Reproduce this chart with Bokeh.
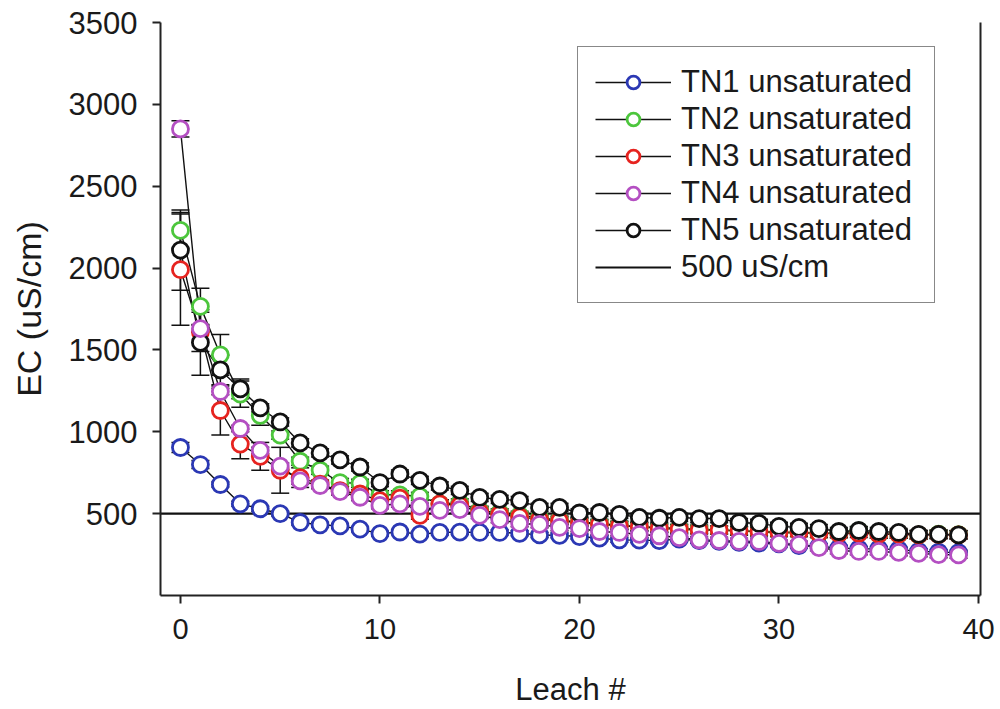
from bokeh.plotting import figure
from bokeh.models import (ColumnDataSource, Whisker, TeeHead, Legend, LegendItem,
                          LinearAxis, FixedTicker, Range1d)
from bokeh.embed import file_html
from bokeh.resources import INLINE

# ---------------- data ----------------
leach = list(range(40))

tn1 = [904, 800, 678, 560, 530, 500, 446, 432, 425, 405,
       378, 388, 375, 385, 387, 385, 385, 380, 370, 367,
       360, 350, 340, 338, 335, 345, 335, 330, 325, 320,
       315, 305, 300, 290, 285, 285, 280, 270, 265, 262]
tn1_err = [30, 25] + [15] * 38

tn2 = [2230, 1766, 1470, 1230, 1100, 980, 820, 765, 690, 685,
       615, 615, 605, 560, 565, 520, 505, 490, 475, 460,
       450, 440, 430, 420, 415, 410, 405, 400, 395, 390,
       385, 385, 380, 380, 395, 375, 375, 370, 375, 372]
tn2_err = [110, 110, 125, 80, 60] + [25] * 35

tn3 = [1990, 1610, 1130, 925, 850, 765, 720, 680, 640, 620,
       580, 595, 490, 560, 550, 510, 495, 480, 465, 455,
       445, 435, 425, 420, 410, 405, 400, 400, 395, 390,
       385, 385, 380, 378, 380, 375, 375, 370, 372, 370]
tn3_err = [340, 120, 150, 90, 85, 140, 60] + [25] * 33

tn4 = [2850, 1630, 1246, 1020, 886, 790, 700, 672, 635, 600,
       550, 560, 544, 520, 525, 490, 464, 440, 434, 416,
       409, 391, 385, 373, 365, 354, 340, 336, 330, 330,
       318, 312, 293, 275, 269, 269, 263, 257, 250, 248]
tn4_err = [50] + [20] * 39

tn5 = [2110, 1546, 1378, 1262, 1146, 1060, 932, 871, 828, 785,
       690, 742, 703, 669, 642, 599, 587, 580, 538, 538,
       504, 507, 495, 477, 472, 477, 470, 470, 446, 440,
       422, 416, 409, 391, 397, 391, 385, 373, 373, 370]
tn5_err = [245, 200, 90, 60] + [25] * 36

series_names = ["TN1 unsaturated", "TN2 unsaturated", "TN3 unsaturated",
                "TN4 unsaturated", "TN5 unsaturated"]
series_values = [tn1, tn2, tn3, tn4, tn5]
series_errors = [tn1_err, tn2_err, tn3_err, tn4_err, tn5_err]
series_colors = ["#2b38b4", "#4cc63c", "#e6231f", "#b44fc2", "#111111"]
draw_order = [0, 1, 2, 4, 3]

threshold = 500
threshold_label = "500 uS/cm"

x_ticks = [0, 10, 20, 30, 40]
y_ticks = [500, 1000, 1500, 2000, 2500, 3000, 3500]
x_start, x_end = -1, 40.1
y_start, y_end = 0, 3500

FONT = "Liberation Sans"
TEXT = "#1a1a1a"

# ---------------- figure ----------------
p = figure(width=1000, height=709, output_backend="svg", toolbar_location=None,
           x_range=Range1d(x_start, x_end), y_range=Range1d(y_start, y_end),
           min_border_left=160, min_border_right=20, min_border_top=22,
           min_border_bottom=114, background_fill_color="white",
           border_fill_color="white")
p.outline_line_color = None
p.xgrid.visible = False
p.ygrid.visible = False

for ax, ticks in ((p.xaxis[0], x_ticks), (p.yaxis[0], y_ticks)):
    ax.ticker = FixedTicker(ticks=ticks)
    ax.minor_tick_line_color = None
    ax.major_tick_in = 0
    ax.major_tick_out = 8
    ax.axis_line_width = 2
    ax.axis_line_color = "#222222"
    ax.major_tick_line_width = 2
    ax.major_tick_line_color = "#222222"
    ax.major_label_text_font = FONT
    ax.major_label_text_color = TEXT
    ax.axis_label_text_font = FONT
    ax.axis_label_text_font_style = "normal"
    ax.axis_label_text_color = TEXT

p.xaxis.axis_label = "Leach #"
p.yaxis.axis_label = "EC (uS/cm)"
p.xaxis.axis_label_text_font_size = "31px"
p.yaxis.axis_label_text_font_size = "34px"
p.xaxis.major_label_text_font_size = "29px"
p.yaxis.major_label_text_font_size = "31px"
p.xaxis.major_label_standoff = 15
p.yaxis.major_label_standoff = 15
p.xaxis.axis_label_standoff = 30
p.yaxis.axis_label_standoff = 18

# right frame line
right_axis = LinearAxis(ticker=FixedTicker(ticks=[]), axis_line_width=2,
                        axis_line_color="#222222", major_tick_line_color=None,
                        minor_tick_line_color=None, major_label_text_alpha=0)
p.add_layout(right_axis, "right")

# threshold line
thr = p.line(x=[x_start, x_end], y=[threshold, threshold],
             line_color="#111111", line_width=2.2)

sources = []
for vals, errs in zip(series_values, series_errors):
    sources.append(ColumnDataSource(dict(
        x=leach, y=vals,
        upper=[v + e for v, e in zip(vals, errs)],
        lower=[v - e for v, e in zip(vals, errs)])))

line_renderers = {}
for i in draw_order:
    line_renderers[i] = p.line("x", "y", source=sources[i], line_color="#111111",
                               line_width=1.4)

for i in draw_order:
    w = Whisker(source=sources[i], base="x", upper="upper", lower="lower",
                line_color="#111111", line_width=1.5,
                upper_head=TeeHead(size=18, line_color="#111111", line_width=1.5),
                lower_head=TeeHead(size=18, line_color="#111111", line_width=1.5))
    p.add_layout(w)

scatter_renderers = {}
for i in draw_order:
    scatter_renderers[i] = p.scatter("x", "y", source=sources[i], marker="circle",
                                     size=16, line_color=series_colors[i],
                                     line_width=2.8, fill_color="white")

items = [LegendItem(label=series_names[i],
                    renderers=[line_renderers[i], scatter_renderers[i]])
         for i in range(len(series_names))]
items.append(LegendItem(label=threshold_label, renderers=[thr]))

legend = Legend(items=items, location=(417, 292),
                border_line_color="#111111", border_line_width=1.5,
                background_fill_color="white", background_fill_alpha=1,
                padding=17, margin=0, spacing=1,
                glyph_width=76, glyph_height=32, label_height=32,
                label_width=236, label_standoff=10,
                label_text_font=FONT, label_text_font_size="31px",
                label_text_color=TEXT)
p.add_layout(legend)

open("out.html", "w").write(file_html(p, INLINE))
